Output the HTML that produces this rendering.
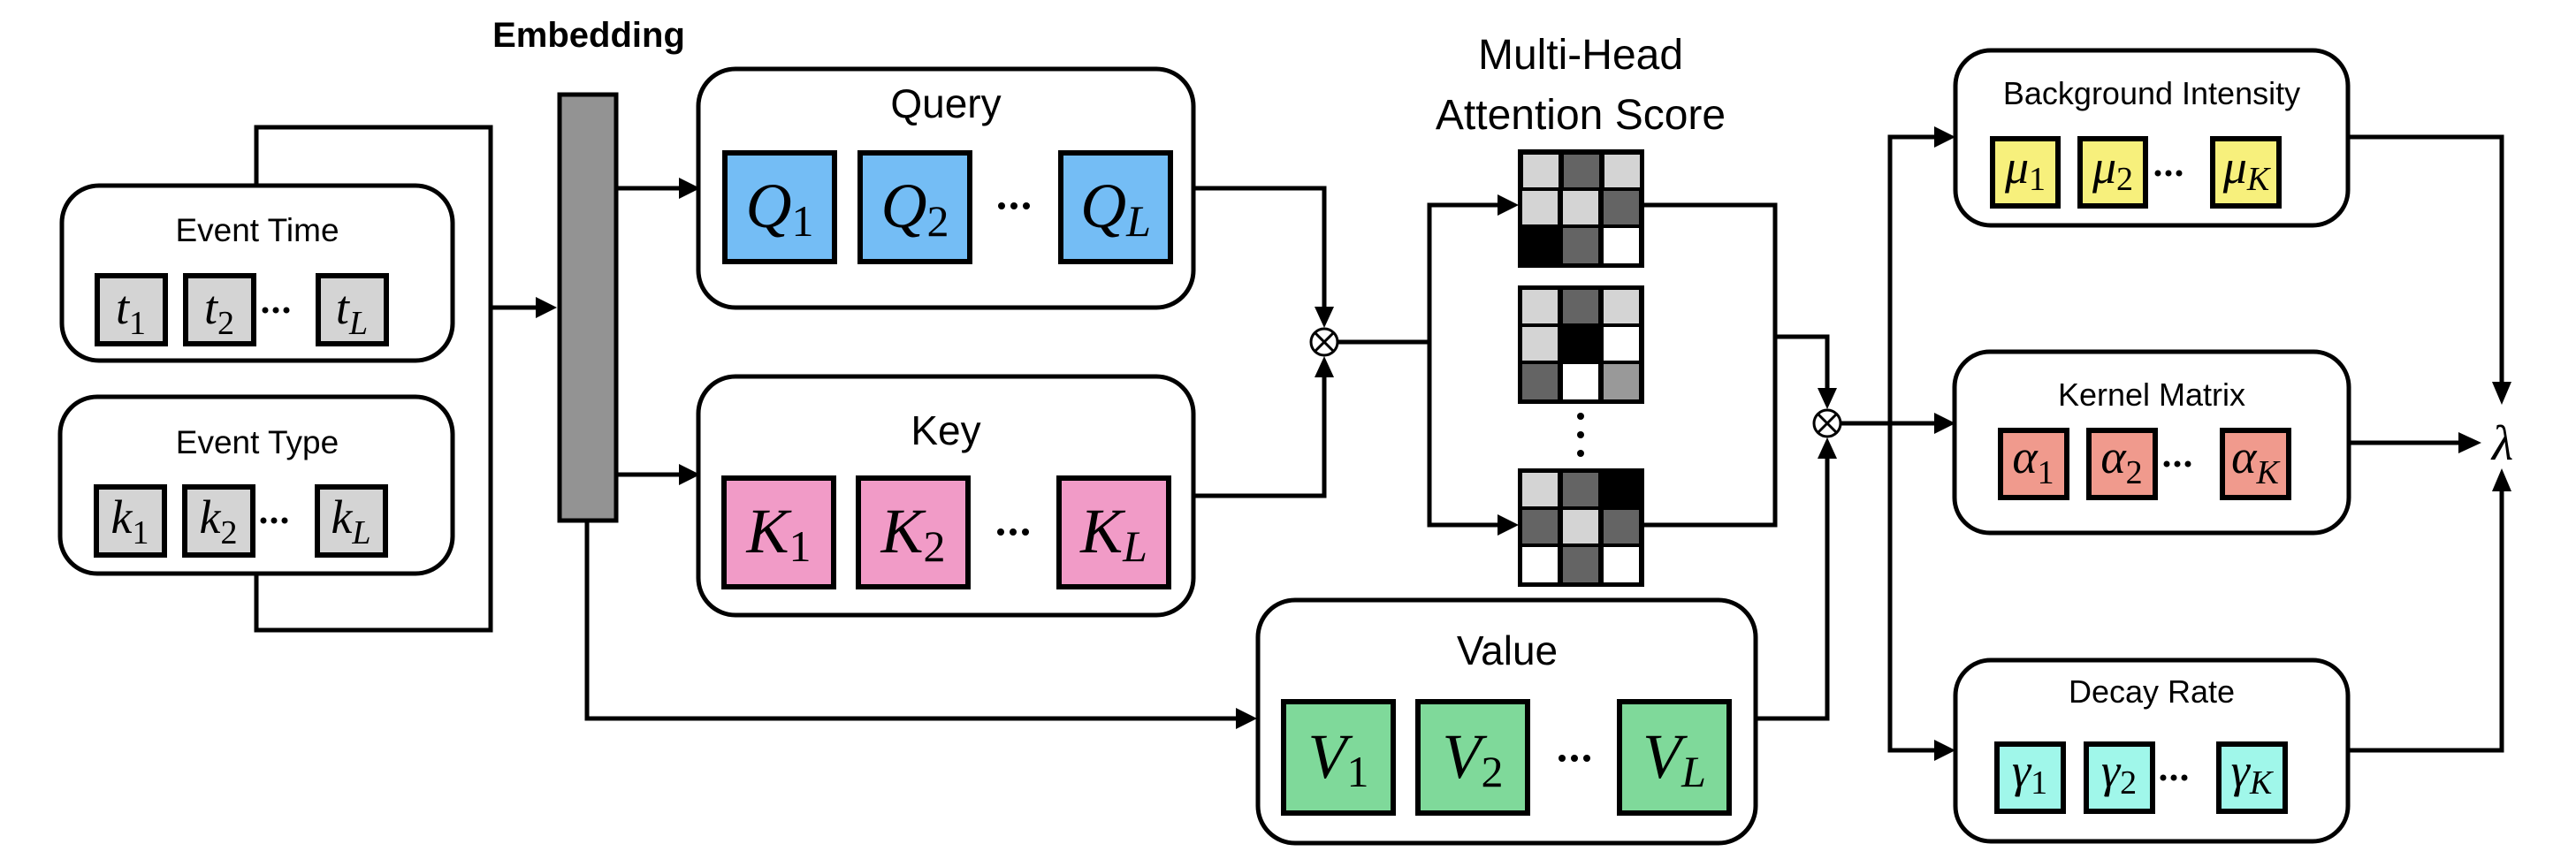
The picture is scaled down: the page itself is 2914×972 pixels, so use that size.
<!DOCTYPE html>
<html><head><meta charset="utf-8"><style>
html,body{margin:0;padding:0;background:#fff;}
svg{display:block;}
.lbl{font-family:"Liberation Sans",sans-serif;fill:#000;}
.m{font-family:"Liberation Serif",serif;fill:#000;}
.i{font-style:italic;}
</style></head><body>
<svg width="2914" height="972" viewBox="0 0 2914 972" xmlns="http://www.w3.org/2000/svg">
<g fill="none" stroke="#000" stroke-width="5">
<polyline points="290,210 290,144 555,144 555,713 290,713 290,650"/>
<line x1="553" y1="348" x2="606" y2="348"/>
<line x1="698" y1="213" x2="768" y2="213"/>
<line x1="698" y1="537" x2="768" y2="537"/>
<polyline points="664,589 664,813 1398,813"/>
<polyline points="1350,213 1498,213 1498,349"/>
<polyline points="1350,561 1498,561 1498,426"/>
<line x1="1513" y1="387" x2="1617" y2="387"/>
<polyline points="1696,232 1617,232 1617,594 1696,594"/>
<polyline points="1860,232 2008,232 2008,594 1860,594"/>
<polyline points="2008,381 2067,381 2067,441"/>
<polyline points="1986,813 2067,813 2067,517"/>
<line x1="2082" y1="479" x2="2138" y2="479"/>
<polyline points="2188,155 2138,155 2138,849 2188,849"/>
<line x1="2138" y1="479" x2="2188" y2="479"/>
<polyline points="2655,155 2830,155 2830,434"/>
<line x1="2657" y1="501" x2="2782" y2="501"/>
<polyline points="2655,849 2830,849 2830,554"/>
</g>
<g fill="#000">
<polygon points="630,348 606,336 606,360"/>
<polygon points="792,213 768,201 768,225"/>
<polygon points="792,537 768,525 768,549"/>
<polygon points="1422,813 1398,801 1398,825"/>
<polygon points="1498,371 1487,347 1509,347"/>
<polygon points="1498,403 1487,427 1509,427"/>
<polygon points="1718,232 1694,220 1694,244"/>
<polygon points="1718,594 1694,582 1694,606"/>
<polygon points="2067,463 2056,439 2078,439"/>
<polygon points="2067,495 2056,519 2078,519"/>
<polygon points="2212,155 2188,143 2188,167"/>
<polygon points="2212,479 2188,467 2188,491"/>
<polygon points="2212,849 2188,837 2188,861"/>
<polygon points="2830,458 2819,432 2841,432"/>
<polygon points="2830,530 2819,556 2841,556"/>
<polygon points="2807,501 2781,489 2781,513"/>
</g>
<g fill="#fff" stroke="#000" stroke-width="3">
<circle cx="1498" cy="387" r="15"/>
<line x1="1487" y1="376" x2="1509" y2="398"/><line x1="1509" y1="376" x2="1487" y2="398"/>
<circle cx="2067" cy="479" r="15"/>
<line x1="2056" y1="468" x2="2078" y2="490"/><line x1="2078" y1="468" x2="2056" y2="490"/>
</g>
<rect x="633" y="107" width="64" height="482" fill="#939393" stroke="#000" stroke-width="5"/>
<text class="lbl" x="666" y="53" font-size="40" font-weight="bold" text-anchor="middle">Embedding</text>
<g fill="#fff" stroke="#000" stroke-width="5">
<rect x="70" y="210" width="442" height="198" rx="42"/>
<rect x="68" y="449" width="444" height="200" rx="42"/>
<rect x="790" y="78" width="560" height="270" rx="42"/>
<rect x="790" y="426" width="560" height="270" rx="42"/>
<rect x="1423" y="679" width="563" height="275" rx="42"/>
<rect x="2212" y="57" width="444" height="198" rx="40"/>
<rect x="2211" y="398" width="446" height="205" rx="40"/>
<rect x="2212" y="747" width="444" height="205" rx="40"/>
</g>
<g class="lbl" font-size="37" text-anchor="middle">
<text x="291" y="273">Event Time</text>
<text x="291" y="513">Event Type</text>
<text x="1070" y="133" font-size="46">Query</text>
<text x="1070" y="503" font-size="46">Key</text>
<text x="1705" y="752" font-size="46">Value</text>
<text x="1788" y="78" font-size="48">Multi-Head</text>
<text x="1788" y="146" font-size="48">Attention Score</text>
<text x="2434" y="118" font-size="36">Background Intensity</text>
<text x="2434" y="459" font-size="36">Kernel Matrix</text>
<text x="2434" y="795" font-size="36">Decay Rate</text>
</g>
<g stroke="#000" stroke-width="6">
<g fill="#d4d4d4">
<rect x="110" y="312" width="77" height="77"/><rect x="210" y="312" width="77" height="77"/><rect x="360" y="312" width="77" height="77"/>
<rect x="109" y="551" width="77" height="77"/><rect x="209" y="551" width="77" height="77"/><rect x="359" y="551" width="77" height="77"/>
</g>
<g fill="#74bdf5">
<rect x="820" y="173" width="124" height="123"/><rect x="973" y="173" width="124" height="123"/><rect x="1200" y="173" width="124" height="123"/>
</g>
<g fill="#f19bc7">
<rect x="819" y="541" width="124" height="123"/><rect x="971" y="541" width="124" height="123"/><rect x="1198" y="541" width="124" height="123"/>
</g>
<g fill="#7fd99a">
<rect x="1452" y="794" width="124" height="126"/><rect x="1604" y="794" width="124" height="126"/><rect x="1832" y="794" width="124" height="126"/>
</g>
<g fill="#f7f07c">
<rect x="2254" y="157" width="74" height="76"/><rect x="2353" y="157" width="74" height="76"/><rect x="2503" y="157" width="75" height="76"/>
</g>
<g fill="#f09a8d">
<rect x="2263" y="487" width="75" height="76"/><rect x="2363" y="487" width="75" height="76"/><rect x="2514" y="487" width="75" height="76"/>
</g>
<g fill="#a0f7ea">
<rect x="2259" y="842" width="75" height="76"/><rect x="2360" y="842" width="75" height="76"/><rect x="2510" y="842" width="75" height="76"/>
</g>
</g>
<g class="m" text-anchor="middle">
<g font-size="54">
<text x="148" y="366"><tspan class="i">t</tspan><tspan font-size="38" dy="12">1</tspan></text>
<text x="248" y="366"><tspan class="i">t</tspan><tspan font-size="38" dy="12">2</tspan></text>
<text x="398" y="366"><tspan class="i">t</tspan><tspan font-size="38" dy="12" class="i">L</tspan></text>
<text x="147" y="603"><tspan class="i">k</tspan><tspan font-size="38" dy="12">1</tspan></text>
<text x="247" y="603"><tspan class="i">k</tspan><tspan font-size="38" dy="12">2</tspan></text>
<text x="397" y="603"><tspan class="i">k</tspan><tspan font-size="38" dy="12" class="i">L</tspan></text>
<text x="2291" y="207"><tspan class="i">μ</tspan><tspan font-size="38" dy="8">1</tspan></text>
<text x="2390" y="207"><tspan class="i">μ</tspan><tspan font-size="38" dy="8">2</tspan></text>
<text x="2541" y="207"><tspan class="i">μ</tspan><tspan font-size="38" dy="8" class="i">K</tspan></text>
<text x="2300" y="535"><tspan class="i">α</tspan><tspan font-size="38" dy="12">1</tspan></text>
<text x="2400" y="535"><tspan class="i">α</tspan><tspan font-size="38" dy="12">2</tspan></text>
<text x="2551" y="535"><tspan class="i">α</tspan><tspan font-size="38" dy="12" class="i">K</tspan></text>
<text x="2296" y="890"><tspan class="i">γ</tspan><tspan font-size="38" dy="8">1</tspan></text>
<text x="2397" y="890"><tspan class="i">γ</tspan><tspan font-size="38" dy="8">2</tspan></text>
<text x="2547" y="890"><tspan class="i">γ</tspan><tspan font-size="38" dy="8" class="i">K</tspan></text>
<text x="2831" y="520" class="i" font-size="56">λ</text>
</g>
<g font-size="72">
<text x="882" y="257"><tspan class="i">Q</tspan><tspan font-size="50" dy="10">1</tspan></text>
<text x="1035" y="257"><tspan class="i">Q</tspan><tspan font-size="50" dy="10">2</tspan></text>
<text x="1262" y="257"><tspan class="i">Q</tspan><tspan font-size="50" dy="10" class="i">L</tspan></text>
<text x="881" y="625"><tspan class="i">K</tspan><tspan font-size="50" dy="10">1</tspan></text>
<text x="1033" y="625"><tspan class="i">K</tspan><tspan font-size="50" dy="10">2</tspan></text>
<text x="1260" y="625"><tspan class="i">K</tspan><tspan font-size="50" dy="10" class="i">L</tspan></text>
<text x="1514" y="880"><tspan class="i">V</tspan><tspan font-size="50" dy="10">1</tspan></text>
<text x="1666" y="880"><tspan class="i">V</tspan><tspan font-size="50" dy="10">2</tspan></text>
<text x="1894" y="880"><tspan class="i">V</tspan><tspan font-size="50" dy="10" class="i">L</tspan></text>
</g>
</g>
<g fill="#000">
<circle cx="300" cy="351" r="3.5"/><circle cx="312" cy="351" r="3.5"/><circle cx="324" cy="351" r="3.5"/>
<circle cx="298" cy="589" r="3.5"/><circle cx="310" cy="589" r="3.5"/><circle cx="322" cy="589" r="3.5"/>
<circle cx="1133" cy="233" r="4"/><circle cx="1147" cy="233" r="4"/><circle cx="1161" cy="233" r="4"/>
<circle cx="1132" cy="602" r="4"/><circle cx="1146" cy="602" r="4"/><circle cx="1160" cy="602" r="4"/>
<circle cx="1767" cy="858" r="4"/><circle cx="1781" cy="858" r="4"/><circle cx="1795" cy="858" r="4"/>
<circle cx="2441" cy="196" r="3.5"/><circle cx="2453" cy="196" r="3.5"/><circle cx="2465" cy="196" r="3.5"/>
<circle cx="2451" cy="525" r="3.5"/><circle cx="2463" cy="525" r="3.5"/><circle cx="2475" cy="525" r="3.5"/>
<circle cx="2447" cy="880" r="3.5"/><circle cx="2459" cy="880" r="3.5"/><circle cx="2471" cy="880" r="3.5"/>
<circle cx="1788" cy="471" r="4"/><circle cx="1788" cy="492" r="4"/><circle cx="1788" cy="513" r="4"/>
</g>
<g>
<rect x="1717" y="169" width="143" height="134" fill="#000"/>
<rect x="1723" y="175" width="40" height="37" fill="#d4d4d4"/><rect x="1769" y="175" width="40" height="37" fill="#646464"/><rect x="1815" y="175" width="40" height="37" fill="#d4d4d4"/>
<rect x="1722" y="216" width="40" height="38" fill="#d4d4d4"/><rect x="1768" y="216" width="40" height="38" fill="#d4d4d4"/><rect x="1814" y="216" width="40" height="38" fill="#646464"/>
<rect x="1722" y="258" width="40" height="40" fill="#000"/><rect x="1768" y="258" width="40" height="40" fill="#646464"/><rect x="1814" y="258" width="40" height="40" fill="#fff"/>
<rect x="1717" y="323" width="143" height="134" fill="#000"/>
<rect x="1722" y="328" width="40" height="38" fill="#d4d4d4"/><rect x="1768" y="328" width="40" height="38" fill="#646464"/><rect x="1814" y="328" width="40" height="38" fill="#d4d4d4"/>
<rect x="1722" y="370" width="40" height="38" fill="#d4d4d4"/><rect x="1768" y="370" width="40" height="38" fill="#000"/><rect x="1814" y="370" width="40" height="38" fill="#fff"/>
<rect x="1722" y="412" width="40" height="40" fill="#646464"/><rect x="1768" y="412" width="40" height="40" fill="#fff"/><rect x="1814" y="412" width="40" height="40" fill="#999"/>
<rect x="1717" y="530" width="143" height="134" fill="#000"/>
<rect x="1722" y="535" width="40" height="38" fill="#d4d4d4"/><rect x="1768" y="535" width="40" height="38" fill="#646464"/><rect x="1814" y="535" width="40" height="38" fill="#000"/>
<rect x="1722" y="577" width="40" height="38" fill="#646464"/><rect x="1768" y="577" width="40" height="38" fill="#d4d4d4"/><rect x="1814" y="577" width="40" height="38" fill="#646464"/>
<rect x="1722" y="619" width="40" height="40" fill="#fff"/><rect x="1768" y="619" width="40" height="40" fill="#646464"/><rect x="1814" y="619" width="40" height="40" fill="#fff"/>
</g>
</svg>
</body></html>
